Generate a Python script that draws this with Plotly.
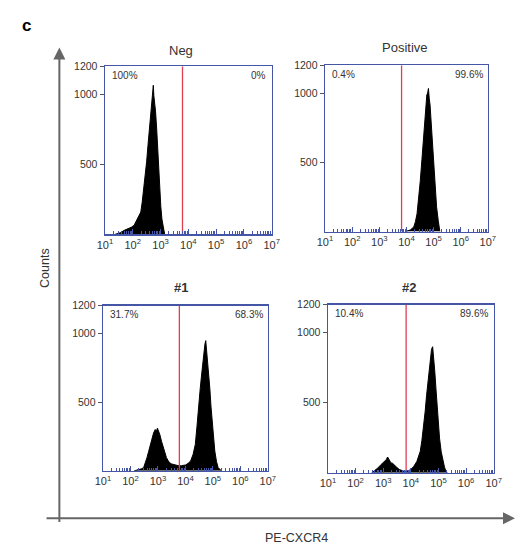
import plotly.graph_objects as go

W, H = 524, 549

# ---- data (x in log10 units of PE-CXCR4 fluorescence, y = counts) ----
panel_titles = ["Neg", "Positive", "<b>#1</b>", "<b>#2</b>"]
left_pct = ["100%", "0.4%", "31.7%", "10.4%"]
right_pct = ["0%", "99.6%", "68.3%", "89.6%"]
gate_log = [3.79, 3.82, 3.78, 3.83]

neg_x = [1.35, 1.55, 1.70, 1.85, 1.95, 2.05, 2.10, 2.15, 2.22, 2.29, 2.34, 2.39, 2.44, 2.50, 2.55,
         2.60, 2.64, 2.68, 2.71, 2.74, 2.76, 2.79, 2.82, 2.86, 2.90, 2.94, 2.97, 3.01, 3.05, 3.09, 3.12, 3.15]
neg_y = [0, 12, 30, 40, 52, 66, 85, 100, 130, 160, 230, 310, 410, 520, 640,
         760, 830, 930, 1000, 1065, 990, 940, 880, 760, 590, 430, 310, 200, 110, 55, 20, 0]

pos_x = [3.97, 4.08, 4.15, 4.27, 4.33, 4.39, 4.45, 4.51, 4.57, 4.63, 4.69, 4.72, 4.75, 4.78, 4.81,
         4.84, 4.87, 4.90, 4.93, 4.99, 5.05, 5.11, 5.17, 5.23]
pos_y = [0, 5, 12, 33, 70, 128, 240, 366, 520, 676, 867, 930, 986, 1000, 1033,
         960, 914, 820, 724, 510, 295, 178, 81, 0]

s1_x = [2.13, 2.30, 2.40, 2.48, 2.54, 2.60, 2.66, 2.72, 2.78, 2.84, 2.90, 2.95, 2.98, 3.02, 3.07,
        3.13, 3.19, 3.25, 3.31, 3.37, 3.42, 3.50, 3.60, 3.70, 3.78, 3.86, 4.01, 4.10, 4.19, 4.28,
        4.36, 4.42, 4.48, 4.54, 4.60, 4.64, 4.68, 4.71, 4.74, 4.77, 4.81, 4.85, 4.89, 4.93, 4.97,
        5.02, 5.07, 5.13, 5.19, 5.31]
s1_y = [0, 8, 15, 24, 55, 96, 140, 192, 240, 275, 300, 290, 311, 290, 263,
        215, 168, 130, 96, 75, 60, 50, 43, 40, 36, 38, 43, 55, 72, 120,
        192, 320, 479, 600, 718, 800, 886, 920, 946, 880, 814, 700, 598, 470, 359,
        240, 144, 70, 24, 0]

s2_x = [2.58, 2.70, 2.81, 2.90, 2.99, 3.05, 3.11, 3.16, 3.22, 3.28, 3.34, 3.40, 3.49, 3.58, 3.67,
        3.75, 3.84, 3.93, 4.02, 4.11, 4.22, 4.34, 4.40, 4.46, 4.52, 4.57, 4.62, 4.67, 4.71, 4.75,
        4.79, 4.83, 4.87, 4.91, 4.95, 5.00, 5.04, 5.10, 5.16, 5.22, 5.27, 5.32]
s2_y = [0, 15, 35, 55, 71, 80, 94, 113, 90, 71, 68, 59, 40, 24, 16,
        12, 12, 16, 28, 47, 82, 153, 230, 318, 440, 553, 650, 741, 820, 882,
        900, 820, 718, 600, 482, 360, 247, 150, 82, 40, 12, 0]

hist_x = [neg_x, pos_x, s1_x, s2_x]
hist_y = [neg_y, pos_y, s1_y, s2_y]

x_tick_exp = [1, 2, 3, 4, 5, 6, 7]
y_tick_vals = [500, 1000, 1200]

# ---- layout geometry (pixels) ----
boxes = [  # left, right, top, bottom
    (100, 272, 61, 231),
    (327, 495, 60, 228),
    (98, 268, 303, 470),
    (330, 501, 302, 472),
]
title_pos = [(178, 45), (409, 42), (178, 285), (414, 285)]

BLUE = "#4656a6"
RED = "#e23d55"
TXT = "#333333"
FONT = "Liberation Sans, Arial, sans-serif"

fig = go.Figure()
layout = dict(
    width=W, height=H, margin=dict(l=0, r=0, t=0, b=0),
    paper_bgcolor="white", plot_bgcolor="white", showlegend=False,
    font=dict(family=FONT, color=TXT, size=10),
)
annotations = []
for i in range(4):
    n = "" if i == 0 else str(i + 1)
    xa, ya = "x" + n, "y" + n
    l, r, t, b = boxes[i]
    layout["xaxis" + n] = dict(
        type="log", range=[1, 7], domain=[l / W, r / W], anchor=ya,
        showline=True, linecolor=BLUE, linewidth=1.4, mirror=True,
        showgrid=False, zeroline=False,
        tickvals=[10 ** e for e in x_tick_exp],
        ticktext=[f"10<sup>{e}</sup>" for e in x_tick_exp],
        ticks="inside", ticklen=5, tickcolor=BLUE, tickwidth=1,
        minor=dict(ticks="inside", ticklen=3, tickcolor=BLUE, dtick="D1", tickwidth=1),
        tickfont=dict(size=11, color=TXT, family=FONT),
        fixedrange=True,
    )
    layout["yaxis" + n] = dict(
        range=[0, 1200], domain=[1 - b / H, 1 - t / H], anchor=xa,
        showline=True, linecolor=BLUE, linewidth=1.4, mirror=True,
        showgrid=False, zeroline=False,
        tickvals=y_tick_vals, ticktext=[str(v) for v in y_tick_vals],
        ticks="outside", ticklen=4, tickcolor="#555555",
        tickfont=dict(size=10.5, color=TXT, family=FONT),
        fixedrange=True,
    )
    fig.add_trace(go.Scatter(
        x=[10 ** v for v in hist_x[i]], y=hist_y[i], xaxis=xa, yaxis=ya,
        mode="lines", line=dict(color="black", width=1), fill="tozeroy",
        fillcolor="black", hoverinfo="skip",
    ))
    fig.add_trace(go.Scatter(
        x=[10 ** gate_log[i]] * 2, y=[0, 1200], xaxis=xa, yaxis=ya,
        mode="lines", line=dict(color=RED, width=1.3), hoverinfo="skip",
    ))
    annotations.append(dict(
        xref=xa + " domain", yref=ya + " domain", x=0.03, y=0.99,
        xanchor="left", yanchor="top", text=left_pct[i], showarrow=False,
        font=dict(size=10, color=TXT, family=FONT),
    ))
    annotations.append(dict(
        xref=xa + " domain", yref=ya + " domain", x=0.98, y=0.99,
        xanchor="right", yanchor="top", text=right_pct[i], showarrow=False,
        font=dict(size=10, color=TXT, family=FONT),
    ))
    tx, ty = title_pos[i]
    annotations.append(dict(
        xref="paper", yref="paper", x=tx / W, y=1 - ty / H,
        xanchor="center", yanchor="middle", text=panel_titles[i], showarrow=False,
        font=dict(size=13, color=TXT, family=FONT),
    ))

# big axis arrows
AX = "#666666"
annotations.append(dict(
    xref="paper", yref="paper", x=53 / W, y=1 - 42 / H, ax=0, ay=476,
    axref="pixel", ayref="pixel", showarrow=True, arrowhead=2, arrowsize=1.2,
    arrowwidth=2, arrowcolor=AX, text="",
))
annotations.append(dict(
    xref="paper", yref="paper", x=523 / W, y=1 - 518 / H, ax=-470, ay=0,
    axref="pixel", ayref="pixel", showarrow=True, arrowhead=2, arrowsize=1.2,
    arrowwidth=2, arrowcolor=AX, text="",
))
annotations.append(dict(
    xref="paper", yref="paper", x=38 / W, y=1 - 265 / H, text="Counts",
    textangle=-90, showarrow=False, xanchor="center", yanchor="middle",
    font=dict(size=12.5, color=TXT, family=FONT),
))
annotations.append(dict(
    xref="paper", yref="paper", x=298 / W, y=1 - 538 / H, text="PE-CXCR4",
    showarrow=False, xanchor="center", yanchor="middle",
    font=dict(size=12.5, color=TXT, family=FONT),
))
annotations.append(dict(
    xref="paper", yref="paper", x=12 / W, y=1 - 20 / H, text="<b>c</b>",
    showarrow=False, xanchor="left", yanchor="middle",
    font=dict(size=17, color="black", family=FONT),
))
layout["annotations"] = annotations
fig.update_layout(**layout)
fig.write_html(
    "out.html",
    config={"displayModeBar": False, "staticPlot": True},
    post_script="document.body.style.margin='0';document.body.style.overflow='hidden';",
)
